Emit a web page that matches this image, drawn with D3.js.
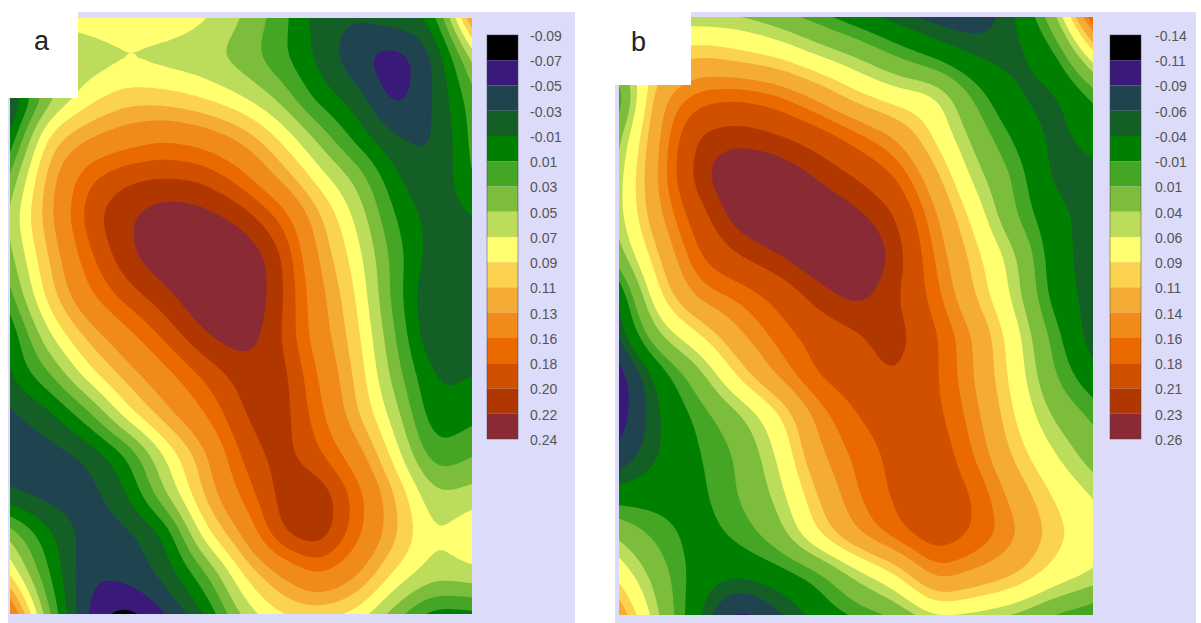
<!DOCTYPE html>
<html>
<head>
<meta charset="utf-8">
<script src="https://d3js.org/d3.v7.min.js"></script>
<style>
html, body { margin: 0; padding: 0; background: #fff; overflow: hidden; }
text { font-family: "Liberation Sans", Arial, sans-serif; }
</style>
</head>
<body>
<script>
// tick labels of the two colour bars
var labelsA = ["-0.09","-0.07","-0.05","-0.03","-0.01","0.01","0.03","0.05","0.07","0.09","0.11","0.13","0.16","0.18","0.20","0.22","0.24"];
var labelsB = ["-0.14","-0.11","-0.09","-0.06","-0.04","-0.01","0.01","0.04","0.06","0.09","0.11","0.14","0.16","0.18","0.21","0.23","0.26"];

var bandColors = ["#000000","#3a1a78","#1f4450","#135f25","#008000","#45a525","#7cbd3c","#bcdc5c","#ffff70","#fbd34f","#f5ac35","#f08a18","#ea6a00","#d05000","#b03800","#8a2a35"];

// field values, in hundredths, row by row from the top
var gridA = [
[3,7,8,8.6,8.6,7.3,5,2,-2,-3,-2,-1,13],
[3,5.6,5.6,6.5,5.9,5.4,4,1.5,-1.5,-4.8,-6.5,-3.5,5],
[-4,4,8,10,9.8,8.7,7,4.5,0,-2,-6.3,-3,2],
[-0.5,10,12.8,14.5,15.7,14.7,12.5,8.7,4.5,0,-3,-3.6,1.5],
[3.5,12,17.8,19.7,20.1,19.7,17,12.5,8,4.5,-0.8,-3,1],
[5.7,12.3,19.3,21.8,23.5,23,21.5,18,11.5,6.6,0.8,-2,-1.2],
[4.5,11,17.5,21.5,23.8,24.5,24,21,12.7,8,2,-2.2,-1.8],
[2.5,10,15.5,19,21.3,24,24.5,21,14,9,2,-3.6,-2],
[-0.8,6.8,11.5,15,18.5,21.8,23.5,20.5,14.5,9.8,3,-3.4,-1.8],
[-1,2.5,8,11.7,15,18.3,20.8,21.5,16,10.5,4,-1.4,-1.1],
[-3.6,-2,2,8,12,15.7,20,21.5,17,11.2,6,-0.8,0.3],
[-4,-4,-3,0.5,7,12,18.5,21,18.5,14.5,8,1.3,2.8],
[-3.1,-4,-4,-1.5,4.8,11,16.5,20.8,22,17.5,11,5.2,5.8],
[4.5,-0.5,-4,-3.8,-1.5,8,13,20.3,22,17,11.5,6.8,9],
[8.5,1,-5,-4.2,-2.5,2,8.8,13,16.5,13.5,8.5,6,6.5],
[16,3,-5.5,-8,-5.2,-1.5,5.5,9,10,8.5,4,0,0.5]
];

var gridB = [
[3,5,4.5,4.3,2.5,0,-2.5,-5,-7,-8,-4.5,2,18],
[5,9,11.3,10,8.8,6.2,4,1,-1.6,-4.2,-5,-2.5,7],
[-1,13.5,17,17.8,16.6,13.5,9.8,7.5,7,0.5,-4,-5,-1],
[3.5,14,21.8,22.6,21.5,19.8,17,14,8.5,3,-1.5,-5,-3],
[5.2,14.5,22.8,25,25,23,21,18.3,12,5,0.8,-5,-4.8],
[5.3,13.5,19.8,24.5,25.5,25,23.8,21.5,14.5,8,1,-3,-5.2],
[3,11,18,21,23,25,25.5,22.8,15.8,10,4.8,-2.8,-5.3],
[-3.5,9,15,16.3,18.7,22,24,21.5,17,11,5.5,-2.5,-5],
[-5.5,4,8.5,13.5,16.7,19,20.5,22.5,18.5,14,7.5,0,-5.5],
[-10.9,-3,2.5,9.5,14.5,18.3,19.5,21.3,18.5,14,8,1,-3],
[-10.8,-4,-0.5,3,8,14.8,18,19.5,19,15,9,3.5,0.6],
[-8,-4,-1.2,1,6,13.5,16.5,18.8,20,16,10.5,6.3,2.5],
[-2.5,-2.2,-1.8,1,4.5,11,16,18.5,20,18.2,13,8.8,6],
[3.5,0.2,-2.2,-0.5,2.5,9,14,17.5,20,18,14.8,10,7.5],
[8,2.5,-2.5,-3.5,-2.5,-0.5,4.5,8.5,15.5,13.5,11.5,8,6],
[13,4,-3.5,-10.5,-6.5,-3,-0.5,1.5,6.5,5.5,4,1,-1]
];

var svg = d3.select("body")
	.append("svg")
	.attr("width", 1201)
	.attr("height", 623);

var fine = 8; // drawing raster per grid cell

function padRow(r) {
	var n = r.length;
	return [2 * r[0] - r[1]].concat(r, [2 * r[n - 1] - r[n - 2]]);
}

function fineField(grid) {
	// one extra cell around the grid, continuing the edge slope, so the blur does not flatten the edges
	var rows = grid.map(padRow);
	var last = rows.length - 1;
	rows = [rows[0].map(function(v, i) { return 2 * v - rows[1][i]; })]
		.concat(rows, [rows[last].map(function(v, i) { return 2 * v - rows[last - 1][i]; })]);
	var w = (rows[0].length - 1) * fine + 1;
	var h = (rows.length - 1) * fine + 1;
	var field = new Float64Array(w * h);
	for (var y = 0; y < h; y++) {
		var j = Math.min(Math.floor(y / fine), rows.length - 2);
		var ty = y / fine - j;
		for (var x = 0; x < w; x++) {
			var i = Math.min(Math.floor(x / fine), rows[0].length - 2);
			var tx = x / fine - i;
			field[y * w + x] = d3.interpolate(
				d3.interpolate(rows[j][i], rows[j][i + 1])(tx),
				d3.interpolate(rows[j + 1][i], rows[j + 1][i + 1])(tx))(ty);
		}
	}
	d3.blur2({data: field, width: w, height: h}, 2);
	return {values: field, width: w, height: h};
}

function drawPanel(opt) {
	var g = svg.append("g");
	var nx = opt.grid[0].length;
	var ny = opt.grid.length;

	g.append("rect")
		.attr("x", opt.bg[0]).attr("y", opt.bg[1])
		.attr("width", opt.bg[2] - opt.bg[0]).attr("height", opt.bg[3] - opt.bg[1])
		.attr("fill", "#dcdcfa");

	// raster value f sits at f + 0.5 in contour space, one padded cell comes first
	var xScale = d3.scaleLinear().domain([fine + 0.5, fine * nx + 0.5]).range([opt.plot[0], opt.plot[2]]);
	var yScale = d3.scaleLinear().domain([fine + 0.5, fine * ny + 0.5]).range([opt.plot[1], opt.plot[3]]);

	var thresholds = opt.labels.slice(0, 16).map(function(d) { return Math.round(+d * 100); });
	var field = fineField(opt.grid);
	var contours = d3.contours()
		.size([field.width, field.height])
		.thresholds(thresholds)(field.values);

	var line = d3.line()
		.x(function(d) { return xScale(d[0]); })
		.y(function(d) { return yScale(d[1]); });

	g.append("clipPath").attr("id", "clip" + opt.id)
		.append("rect")
		.attr("x", opt.plot[0]).attr("y", opt.plot[1])
		.attr("width", opt.plot[2] - opt.plot[0]).attr("height", opt.plot[3] - opt.plot[1]);

	g.append("rect")
		.attr("x", opt.plot[0]).attr("y", opt.plot[1])
		.attr("width", opt.plot[2] - opt.plot[0]).attr("height", opt.plot[3] - opt.plot[1])
		.attr("fill", bandColors[0]);

	g.append("g")
		.attr("clip-path", "url(#clip" + opt.id + ")")
		.selectAll("path")
		.data(contours)
		.enter()
		.append("path")
		.attr("fill", function(d, i) { return bandColors[i]; })
		.attr("fill-rule", "evenodd")
		.attr("d", function(d) {
			var s = "";
			d.coordinates.forEach(function(poly) {
				poly.forEach(function(ring) {
					s += line(ring) + "Z";
				});
			});
			return s;
		});

	// colour bar, ticks sit on the band edges
	var barScale = d3.scalePoint()
		.domain(opt.labels.map(function(d, i) { return i; }))
		.range([opt.bar[1], opt.bar[3]]);

	g.append("g")
		.selectAll("rect")
		.data(bandColors)
		.enter()
		.append("rect")
		.attr("x", opt.bar[0])
		.attr("y", function(d, i) { return barScale(i); })
		.attr("width", opt.bar[2] - opt.bar[0])
		.attr("height", function(d, i) { return barScale(i + 1) - barScale(i); })
		.attr("fill", function(d) { return d; });

	g.append("rect")
		.attr("x", opt.bar[0]).attr("y", opt.bar[1])
		.attr("width", opt.bar[2] - opt.bar[0]).attr("height", opt.bar[3] - opt.bar[1])
		.attr("fill", "none")
		.attr("stroke", "#444")
		.attr("stroke-opacity", 0.5);

	var barAxis = d3.axisRight(barScale)
		.tickSize(0)
		.tickPadding(0)
		.tickFormat(function(i) { return opt.labels[i]; });

	var axisG = g.append("g")
		.attr("transform", "translate(" + opt.tickX + ",1)")
		.call(barAxis);
	axisG.select(".domain").remove();
	axisG.selectAll("text")
		.attr("font-size", 14)
		.attr("font-family", "Liberation Sans")
		.attr("fill", "#555");

	// white box with the panel letter
	svg.append("rect")
		.attr("x", opt.box[0]).attr("y", 0)
		.attr("width", opt.box[1] - opt.box[0]).attr("height", opt.box[2])
		.attr("fill", "#fff");
	svg.append("text")
		.attr("x", opt.letter[0]).attr("y", opt.letter[1])
		.attr("font-size", 27)
		.attr("fill", "#222")
		.text(opt.id);
}

drawPanel({id: "a", grid: gridA, labels: labelsA,
	bg: [8, 12, 575, 623], plot: [10, 18, 472, 614], bar: [487, 35, 518, 439],
	tickX: 530, box: [0, 78, 98], letter: [34, 50]});
drawPanel({id: "b", grid: gridB, labels: labelsB,
	bg: [615, 12, 1196, 623], plot: [619, 17, 1093, 615], bar: [1110, 35, 1141, 439],
	tickX: 1155, box: [600, 691, 85], letter: [631, 51]});
</script>
</body>
</html>
